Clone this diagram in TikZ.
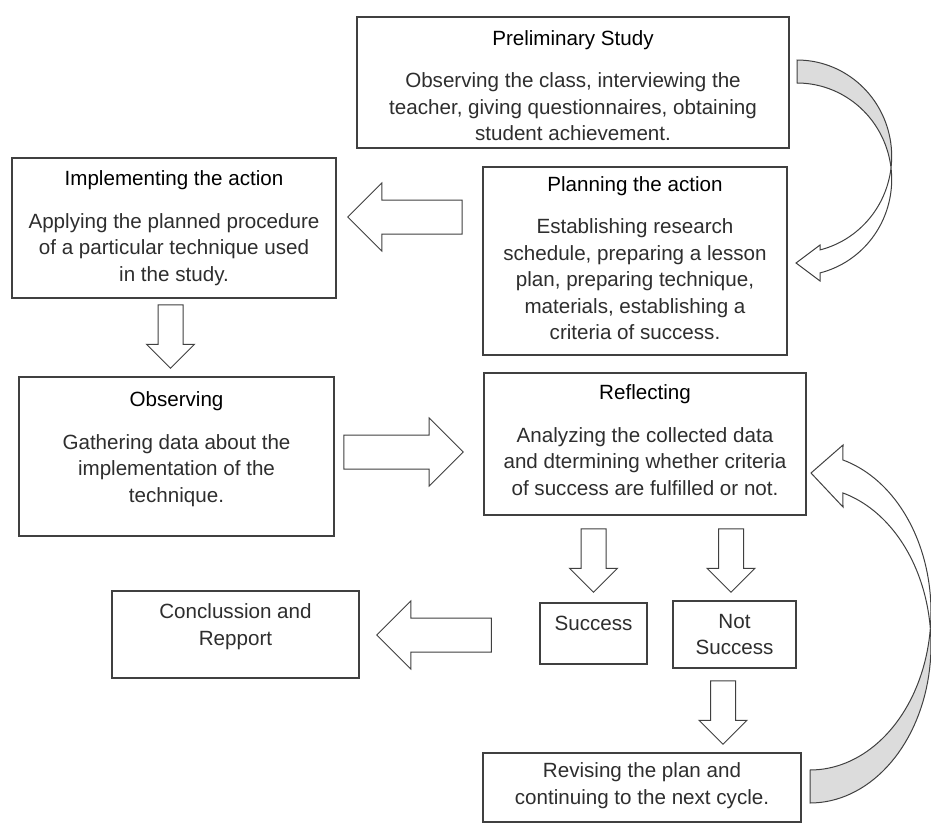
\documentclass[tikz,border=0pt]{standalone}
\usepackage{fontspec}
\setmainfont{Liberation Sans}
\usetikzlibrary{calc,positioning}
\definecolor{cline}{HTML}{404040}
\definecolor{ctext}{HTML}{2E2E2E}
\definecolor{cback}{HTML}{DCDCDC}
\tikzset{
  stage/.style={draw=cline, line width=0.75bp, fill=white, inner sep=0pt},
  stagetxt/.style={align=center, inner sep=0pt, text=ctext,
                   font=\fontsize{10.3bp}{13.25bp}\selectfont},
  barrow/.style={draw=cline, fill=white, line width=0.5bp, line join=miter},
  cband/.style={draw=cline, line width=0.5bp},
}
% block arrow: tail, tip, half shaft, half head
\newcommand{\blockarrow}[4]{%
  \coordinate (ba-neck) at ($(#2)!#4!(#1)$);
  \draw[barrow] ($(#1)!#3!90:(#2)$) -- ($(ba-neck)!#3!90:(#2)$)
    -- ($(ba-neck)!#4!90:(#2)$) -- (#2) -- ($(ba-neck)!#4!-90:(#2)$)
    -- ($(ba-neck)!#3!-90:(#2)$) -- ($(#1)!#3!-90:(#2)$) -- cycle;
}
\newcommand{\shead}[1]{\textcolor{black}{#1}\\[8bp]}

\begin{document}
\begin{tikzpicture}[x=0.5bp, y=-0.5bp]
  \useasboundingbox (0,0) rectangle (931,832);

  % boxes
  \node[stage, minimum width=216bp, minimum height=65.5bp] (prelim) at (573,82.5) {};
  \node[stage, minimum width=162bp, minimum height=70bp] (impl) at (174,228) {};
  \node[stage, minimum width=152bp, minimum height=94bp] (plan) at (635,261) {};
  \node[stage, minimum width=157.5bp, minimum height=79.5bp] (obs) at (176.5,456.5) {};
  \node[stage, minimum width=161bp, minimum height=71bp] (refl) at (645,444) {};
  \node[stage, minimum width=123.5bp, minimum height=43.5bp] (concl) at (235.5,634.5) {};
  \node[stage, minimum width=53.5bp, minimum height=30.5bp] (succ) at (593.5,633.5) {};
  \node[stage, minimum width=61.5bp, minimum height=33.5bp] (nots) at (734.5,634.5) {};
  \node[stage, minimum width=159bp, minimum height=34.5bp] (revise) at (642,787.5) {};

  % texts
  \node[stagetxt] (prelim-t) at ([yshift=-1.5bp]prelim.center)
    {\shead{Preliminary Study}Observing the class, interviewing the\\
     teacher, giving questionnaires, obtaining\\student achievement.};
  \node[stagetxt] (impl-t) at (impl.center)
    {\shead{Implementing the action}Applying the planned procedure\\
     of a particular technique used\\in the study.};
  \node[stagetxt] (plan-t) at ([yshift=1.5bp]plan.center)
    {\shead{Planning the action}Establishing research\\
     schedule, preparing a lesson\\plan, preparing technique,\\
     materials, establishing a\\criteria of success.};
  \node[stagetxt] (obs-t) at ([yshift=3.75bp]obs.center)
    {\shead{Observing}Gathering data about the\\
     implementation of the\\technique.};
  \node[stagetxt] (refl-t) at ([yshift=2bp]refl.center)
    {\shead{Reflecting}Analyzing the collected data\\
     and dtermining whether criteria\\of success are fulfilled or not.};
  \node[stagetxt] (concl-t) at ([yshift=4bp]concl.center) {Conclussion and\\Repport};
  \node[stagetxt] (succ-t) at ([yshift=5bp]succ.center) {Success};
  \node[stagetxt] (nots-t) at (nots.center) {Not\\Success};
  \node[stagetxt] (revise-t) at ([yshift=1bp]revise.center)
    {Revising the plan and\\continuing to the next cycle.};

  % block arrows
  \coordinate (pi-t) at ($(plan.west)+(-20,-44)$);
  \coordinate (pi-h) at ($(impl.east)+(11,-11)$);
  \blockarrow{pi-t}{pi-h}{8.5bp}{17bp}
  \coordinate (io-t) at ($(impl.south)+(-3.5,6)$);
  \coordinate (io-h) at ($(io-t|-obs.north)+(0,-8)$);
  \blockarrow{io-t}{io-h}{6.25bp}{12bp}
  \coordinate (or-t) at ($(obs.east)+(9,-4.5)$);
  \coordinate (or-h) at ($(refl.west|-or-t)+(-20,0)$);
  \blockarrow{or-t}{or-h}{8.5bp}{17bp}
  \coordinate (rs-t) at ($(succ.north|-refl.south)+(0,13)$);
  \coordinate (rs-h) at ($(succ.north)+(0,-10)$);
  \blockarrow{rs-t}{rs-h}{6.25bp}{12bp}
  \coordinate (rn-t) at ($(nots.north|-refl.south)+(-3.5,13)$);
  \coordinate (rn-h) at ($(rn-t|-nots.north)+(0,-8)$);
  \blockarrow{rn-t}{rn-h}{6.25bp}{12bp}
  \coordinate (sc-t) at ($(succ.west)+(-48,1.5)$);
  \coordinate (sc-h) at ($(concl.east|-sc-t)+(17,0)$);
  \blockarrow{sc-t}{sc-h}{8.5bp}{17bp}
  \coordinate (nr-t) at ($(nots.south)+(-11.5,12)$);
  \coordinate (nr-h) at ($(nr-t|-revise.north)+(0,-8)$);
  \blockarrow{nr-t}{nr-h}{6.25bp}{12bp}

  % curved arrow: preliminary -> planning
  \draw[cband, fill=cback]
    plot[domain=-90:6.85, samples=40] ({797+94.7*cos(\x)},{156.4+96.4*sin(\x)})
    -- plot[domain=6.85:90, samples=40] ({797+94.7*cos(-\x)},{179.4+96.4*sin(-\x)})
    -- cycle;
  \draw[cband, fill=white]
    plot[domain=-6.85:75.9, samples=40] ({797+94.7*cos(\x)},{179.4+96.4*sin(\x)})
    -- (820,281) -- (796,263) -- (820,245)
    -- plot[domain=-75.9:-6.85, samples=40] ({797+94.7*cos(-\x)},{156.4+96.4*sin(-\x)})
    -- cycle;

  % curved arrow: revising -> reflecting
  \draw[cband, fill=cback]
    plot[domain=-90:5.99, samples=40] ({810+121*cos(-\x)},{645+158*sin(-\x)})
    -- plot[domain=5.99:90, samples=40] ({810+121*cos(\x)},{612+158*sin(\x)})
    -- cycle;
  \draw[cband, fill=white]
    plot[domain=-5.99:74.2, samples=40] ({810+121*cos(-\x)},{612+158*sin(-\x)})
    -- (843,445) -- (811,473) -- (843,507)
    -- plot[domain=-74.2:-5.99, samples=40] ({810+121*cos(\x)},{645+158*sin(\x)})
    -- cycle;

\end{tikzpicture}
\end{document}
